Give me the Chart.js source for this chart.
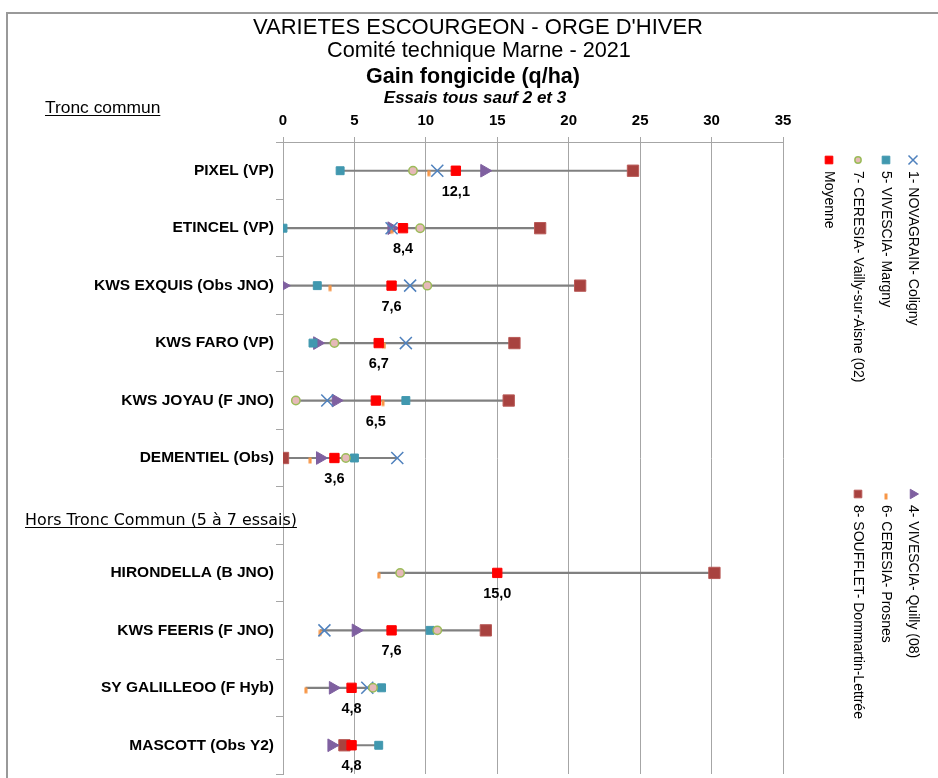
<!DOCTYPE html>
<html>
<head>
<meta charset="utf-8">
<script src="https://cdn.jsdelivr.net/npm/chart.js@4/dist/chart.umd.min.js"></script>
<style>
  html, body { margin: 0; padding: 0; background: #fff; overflow: hidden; }
</style>
</head>
<body>
<canvas id="chart1" width="938" height="784"></canvas>
<script>
// Varietes (axe vertical) - la ligne vide separe les deux groupes
const varietes = [
    'PIXEL (VP)', 'ETINCEL (VP)', 'KWS EXQUIS (Obs JNO)', 'KWS FARO (VP)',
    'KWS JOYAU (F JNO)', 'DEMENTIEL (Obs)', '',
    'HIRONDELLA (B JNO)', 'KWS FEERIS (F JNO)', 'SY GALILLEOO (F Hyb)', 'MASCOTT (Obs Y2)'
];

// Gain fongicide (q/ha) par essai
const novagrain = [10.8, 7.6, 8.9, 8.6, 3.1, 8.0, null, null, 2.9, 5.9, null];
const quilly    = [14.1, 7.6, 0.0, 2.4, 3.7, 2.6, null, null, 5.1, 3.5, 3.4];
const margny    = [4.0, 0.0, 2.4, 2.1, 8.6, 5.0, null, null, 10.3, 6.9, 6.7];
const prosnes   = [10.2, 7.6, 3.3, 7.1, 7.0, 1.9, null, 6.7, 2.6, 1.6, null];
const vailly    = [9.1, 9.6, 10.1, 3.6, 0.9, 4.4, null, 8.2, 10.8, 6.3, null];
const souffle   = [24.5, 18.0, 20.8, 16.2, 15.8, 0.0, null, 30.2, 14.2, null, 4.3];
const moyenne   = [12.1, 8.4, 7.6, 6.7, 6.5, 3.6, null, 15.0, 7.6, 4.8, 4.8];

const xTicks = [0, 5, 10, 15, 20, 25, 30, 35];

const FONT = "'Liberation Sans', Arial, sans-serif";

// petit tiret orange (marqueur de l'essai 6), un peu sous la ligne
const tiret = document.createElement('canvas');
tiret.width = 4;
tiret.height = 16;
const tctx = tiret.getContext('2d');
tctx.fillStyle = '#F79646';
tctx.fillRect(0.5, 7.5, 3, 6);

// trait gris entre le min et le max de chaque variete
const series = [novagrain, quilly, margny, prosnes, vailly, souffle];
const etendue = varietes.map((v, i) => {
    const vals = series.map((s) => s[i]).filter((x) => x !== null);
    if (!vals.length) return null;
    return [Math.min(...vals), Math.max(...vals)];
});

function serie(label, data, style, order) {
    return Object.assign({
        type: 'line',
        label: label,
        data: data,
        indexAxis: 'y',
        showLine: false,
        order: order,
        pointHoverRadius: 0
    }, style);
}

const datasets = [
    {
        type: 'bar',
        label: 'etendue',
        data: etendue,
        backgroundColor: '#808080',
        barThickness: 1.5,
        order: 10
    },
    serie('1- NOVAGRAIN- Coligny', novagrain, {
        pointStyle: 'crossRot', pointRadius: 8.5, pointBorderWidth: 1.5,
        pointBorderColor: '#4F81BD', pointBackgroundColor: '#4F81BD'
    }, 3),
    serie('4- VIVESCIA- Quilly (08)', quilly, {
        pointStyle: 'triangle', pointRotation: 90, pointRadius: 7.3, pointBorderWidth: 1,
        pointBorderColor: '#7F60A0', pointBackgroundColor: '#7F60A0'
    }, 5),
    serie('5- VIVESCIA- Margny', margny, {
        pointStyle: 'rect', pointRadius: 5.6, pointBorderWidth: 1,
        pointBorderColor: '#4198AF', pointBackgroundColor: '#4198AF'
    }, 2),
    serie('6- CERESIA- Prosnes', prosnes, {
        pointStyle: tiret, pointRadius: 6
    }, 4),
    serie('7- CERESIA- Vailly-sur-Aisne (02)', vailly, {
        pointStyle: 'circle', pointRadius: 4.2, pointBorderWidth: 1.5,
        pointBorderColor: '#9BBB59', pointBackgroundColor: '#E6B9B8'
    }, 1),
    serie('8- SOUFFLET- Dommartin-Lettrée', souffle, {
        pointStyle: 'rect', pointRadius: 8, pointBorderWidth: 1,
        pointBorderColor: '#B85A57', pointBackgroundColor: '#A8423F'
    }, 6),
    serie('Moyenne', moyenne, {
        pointStyle: 'rect', pointRadius: 6.6, pointBorderWidth: 1,
        pointBorderColor: '#FF0000', pointBackgroundColor: '#FF0000'
    }, 0)
];

// legende tournee de 90 degres, a droite
const legendePos = [
    { ds: 1, x: 913, y: 160 },
    { ds: 3, x: 886, y: 160 },
    { ds: 5, x: 858, y: 160 },
    { ds: 7, x: 829, y: 160 },
    { ds: 2, x: 913, y: 494 },
    { ds: 4, x: 886, y: 494 },
    { ds: 6, x: 858, y: 494 }
];

function souligne(ctx, text, x, y) {
    ctx.fillText(text, x, y);
    const w = ctx.measureText(text).width;
    ctx.fillRect(x, y + 2, w, 1);
}

const decor = {
    id: 'decor',
    beforeDraw(chart) {
        const ctx = chart.ctx;
        ctx.save();
        ctx.fillStyle = '#fff';
        ctx.fillRect(0, 0, chart.width, chart.height);
        ctx.strokeStyle = '#999';
        ctx.lineWidth = 2;
        ctx.beginPath();
        ctx.moveTo(7, chart.height + 5);
        ctx.lineTo(7, 13);
        ctx.lineTo(chart.width + 5, 13);
        ctx.stroke();
        ctx.restore();
    },
    afterDraw(chart) {
        const ctx = chart.ctx;
        ctx.save();
        ctx.fillStyle = '#000';
        ctx.textAlign = 'center';
        ctx.textBaseline = 'middle';
        ctx.font = '22px ' + FONT;
        ctx.fillText("VARIETES ESCOURGEON - ORGE D'HIVER", 478, 28);
        ctx.font = '21.7px ' + FONT;
        ctx.fillText('Comité technique Marne - 2021', 479, 51);
        ctx.font = 'bold 21.5px ' + FONT;
        ctx.fillText('Gain fongicide (q/ha)', 473, 77);
        ctx.font = 'italic bold 17px ' + FONT;
        ctx.fillText('Essais tous sauf 2 et 3', 475, 98);

        ctx.textAlign = 'left';
        ctx.textBaseline = 'alphabetic';
        ctx.font = '17.4px ' + FONT;
        souligne(ctx, 'Tronc commun', 45, 113);
        ctx.font = "15.9px 'DejaVu Sans', sans-serif";
        souligne(ctx, 'Hors Tronc Commun (5 à 7 essais)', 25, 525);

        // legende
        ctx.font = '14px ' + FONT;
        legendePos.forEach((p) => {
            const ds = chart.data.datasets[p.ds];
            ctx.fillStyle = ds.pointBackgroundColor || '#000';
            ctx.strokeStyle = ds.pointBorderColor || '#000';
            ctx.lineWidth = ds.pointBorderWidth || 0;
            Chart.helpers.drawPoint(ctx, {
                pointStyle: ds.pointStyle,
                radius: ds.pointStyle === 'rect' ? 5.4 : (ds.pointRadius * 0.75),
                rotation: ds.pointRotation || 0,
                borderWidth: ds.pointBorderWidth || 0
            }, p.x, p.y);
            ctx.save();
            ctx.translate(p.x, p.y);
            ctx.rotate(Math.PI / 2);
            ctx.fillStyle = '#000';
            ctx.textAlign = 'left';
            ctx.textBaseline = 'middle';
            ctx.fillText(ds.label, 11, 0);
            ctx.restore();
        });
        ctx.restore();
    },
    afterDatasetsDraw(chart) {
        // valeur de la moyenne sous le carre rouge
        const ctx = chart.ctx;
        const meta = chart.getDatasetMeta(7);
        ctx.save();
        ctx.fillStyle = '#000';
        ctx.font = 'bold 14.5px ' + FONT;
        ctx.textAlign = 'center';
        ctx.textBaseline = 'middle';
        meta.data.forEach((pt, i) => {
            if (moyenne[i] === null) return;
            ctx.fillText(moyenne[i].toFixed(1).replace('.', ','), pt.x, pt.y + 21);
        });
        ctx.restore();
    }
};

const contexte = document.getElementById('chart1');
new Chart(contexte, {
    type: 'bar',
    data: {
        labels: varietes,
        datasets: datasets
    },
    options: {
        indexAxis: 'y',
        responsive: false,
        animation: false,
        layout: { padding: { left: 0, right: 155, top: 0, bottom: 4 } },
        plugins: {
            legend: { display: false },
            tooltip: { enabled: false }
        },
        scales: {
            x: {
                position: 'top',
                min: 0,
                max: 35,
                afterBuildTicks: (s) => { s.ticks = xTicks.map((v) => ({ value: v })); },
                ticks: {
                    color: '#000',
                    padding: 7,
                    font: { family: FONT, size: 15, weight: 'bold' }
                },
                grid: { color: '#A6A6A6', tickLength: 5, lineWidth: 1 },
                border: { color: '#A6A6A6' },
                afterFit: (s) => { s.height = 142; }
            },
            y: {
                ticks: {
                    color: '#000',
                    padding: 2,
                    font: { family: FONT, size: 15.5, weight: 'bold' }
                },
                grid: { drawOnChartArea: false, tickLength: 7, color: '#A6A6A6', offset: true },
                border: { color: '#A6A6A6' },
                afterFit: (s) => {
                    s.width = 283;
                    s.paddingTop = 0;
                    s.paddingBottom = 0;
                }
            }
        }
    },
    plugins: [decor]
});
</script>
</body>
</html>
